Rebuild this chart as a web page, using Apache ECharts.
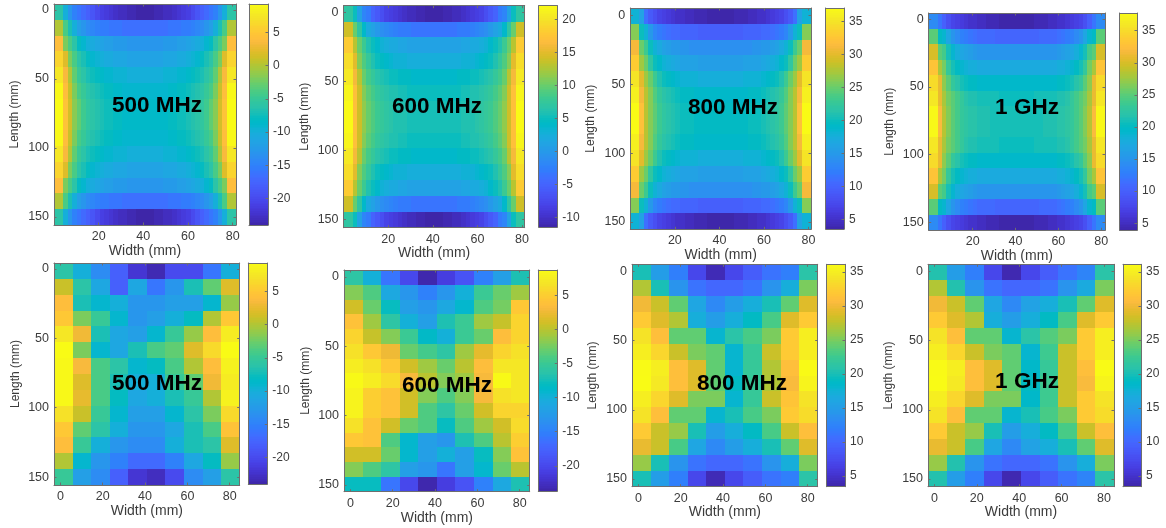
<!DOCTYPE html>
<html><head><meta charset="utf-8">
<style>html,body{margin:0;padding:0;background:#fff}#c{width:1166px;height:528px;filter:blur(0.45px)}</style>
<script src="https://cdn.jsdelivr.net/npm/echarts@6/dist/echarts.min.js"></script></head>
<body><div id="c"></div>
<script>
// ---------- tick labels ----------
const lengthTicks=[0,50,100,150];
const widthTicksTop=[20,40,60,80];
const widthTicksBottom=[0,20,40,60,80];
const barTicks500=[-20,-15,-10,-5,0,5];
const barTicks600=[-10,-5,0,5,10,15,20];
const barTicksHigh=[5,10,15,20,25,30,35];
const barTicks600b=[-20,-15,-10,-5,0,5];

// ---------- top row, 500 MHz: rows from the top edge to mid length ----------
const a0=[-6,-6,-10,-13,-15,-16,-17,-18,-19,-20,-21,-21.5,-22,-22.5,-23,-23,-23.5,-23.5,-24,-24,-24,-24,-23.5,-23.5,-23,-23,-22.5,-22,-21.5,-21,-20,-19,-18,-17,-16,-15,-13,-10,-6,-6];
const a1=[0,0,-4,-7,-10,-12,-13,-14,-14.5,-15,-15.5,-15.5,-16,-16,-16,-16.5,-16.5,-16.5,-16.5,-16.5,-16.5,-16.5,-16.5,-16.5,-16.5,-16,-16,-16,-15.5,-15.5,-15,-14.5,-14,-13,-12,-10,-7,-4,0,0];
const a2=[4,4,-2,-4,-6,-8,-9,-10,-10.5,-11,-11.5,-12,-12,-12.5,-12.5,-12.5,-13,-13,-13,-13,-13,-13,-13,-13,-12.5,-12.5,-12.5,-12,-12,-11.5,-11,-10.5,-10,-9,-8,-6,-4,-2,4,4];
const a3=[6,6,2,-2,-4,-6,-7,-8,-9,-9.5,-10,-10.5,-10.5,-11,-11,-11,-11.5,-11.5,-11.5,-11.5,-11.5,-11.5,-11.5,-11.5,-11,-11,-11,-10.5,-10.5,-10,-9.5,-9,-8,-7,-6,-4,-2,2,6,6];
const a4=[7.5,7.5,3.5,0,-3,-5,-6,-7,-7.5,-8,-8.5,-9,-9,-9.5,-9.5,-9.5,-10,-10,-10,-10,-10,-10,-10,-10,-9.5,-9.5,-9.5,-9,-9,-8.5,-8,-7.5,-7,-6,-5,-3,0,3.5,7.5,7.5];
const a5=[9,9,4,1,-2,-4,-5,-6,-6.5,-7,-7.5,-8,-8,-8.5,-8.5,-9,-9,-9,-9,-9,-9,-9,-9,-9,-9,-8.5,-8.5,-8,-8,-7.5,-7,-6.5,-6,-5,-4,-2,1,4,9,9];
const a6=[9.3,9.3,4.5,1.5,-1.5,-3,-4.5,-5.5,-6,-6.5,-7,-7.5,-7.5,-8,-8,-8.5,-8.5,-8.5,-8.5,-8.5,-8.5,-8.5,-8.5,-8.5,-8.5,-8,-8,-7.5,-7.5,-7,-6.5,-6,-5.5,-4.5,-3,-1.5,1.5,4.5,9.3,9.3];
const top500=[a0,a1,a2,a3,a4,a5,a6,a6,a5,a4,a3,a2,a1,a0];

// ---------- top row, 600 MHz ----------
const b0=[7,7,5,1,-2,-3,-5,-6,-7,-8,-8.5,-9,-9.5,-10,-10.5,-10.5,-11,-11,-11.4,-11.4,-11.4,-11.4,-11,-11,-10.5,-10.5,-10,-9.5,-9,-8.5,-8,-7,-6,-5,-3,-2,1,5,7,7];
const b1=[14,14,10,7,4,2,1,0,-1,-1.5,-2,-2.5,-3,-3,-3,-3.5,-3.5,-3.5,-3.5,-3.5,-3.5,-3.5,-3.5,-3.5,-3.5,-3,-3,-3,-2.5,-2,-1.5,-1,0,1,2,4,7,10,14,14];
const b2=[18,18,13,10,8,6,5,4,3,2.5,2,2,1.5,1.5,1,1,1,1,1,1,1,1,1,1,1,1,1.5,1.5,2,2,2.5,3,4,5,6,8,10,13,18,18];
const b3=[19.5,19.5,15,11,9,7.5,6,5,4.5,4,3.5,3,3,3,2.5,2.5,2.5,2.5,2.5,2.5,2.5,2.5,2.5,2.5,2.5,2.5,3,3,3,3.5,4,4.5,5,6,7.5,9,11,15,19.5,19.5];
const b4=[20.5,20.5,16,13,10,8.5,7.5,6.5,6,5.5,5,5,4.5,4.5,4.5,4,4,4,4,4,4,4,4,4,4,4.5,4.5,4.5,5,5,5.5,6,6.5,7.5,8.5,10,13,16,20.5,20.5];
const b5=[21.5,21.5,17,14,11,9.5,8.5,7.5,7,6.5,6,6,5.5,5.5,5,5,5,5,5,5,5,5,5,5,5,5,5.5,5.5,6,6,6.5,7,7.5,8.5,9.5,11,14,17,21.5,21.5];
const b6=[22,22,17,14,11.5,10,9,8,7.5,7,6.5,6,6,6,5.5,5.5,5.5,5.5,5.5,5.5,5.5,5.5,5.5,5.5,5.5,5.5,6,6,6,6.5,7,7.5,8,9,10,11.5,14,17,22,22];
const top600=[b0,b1,b2,b3,b4,b5,b6,b6,b5,b4,b3,b2,b1,b0];

// ---------- top row, 800 MHz ----------
const c0=[18,18,16,11,9,8,7,6.5,6,5.5,5,5,4.5,4.5,4,4,4,3.6,3.6,3.6,3.6,3.6,3.6,4,4,4,4.5,4.5,5,5,5.5,6,6.5,7,8,9,11,16,18,18];
const c1=[26,26,20,18,15,13,12,11.5,11,10.5,10.5,10,10,10,10,9.5,9.5,9.5,9.5,9.5,9.5,9.5,9.5,9.5,9.5,10,10,10,10,10.5,10.5,11,11.5,12,13,15,18,20,26,26];
const c2=[31,31,25,23,20,18,17,16,15.5,15,15,14.5,14.5,14,14,14,14,14,14,14,14,14,14,14,14,14,14,14.5,14.5,15,15,15.5,16,17,18,20,23,25,31,31];
const c3=[33,33,27,25,22,20,19,18,17.5,17,16.5,16,16,16,16,15.5,15.5,15.5,15.5,15.5,15.5,15.5,15.5,15.5,15.5,16,16,16,16,16.5,17,17.5,18,19,20,22,25,27,33,33];
const c4=[35,35,30,27,25,23,21,20,19.5,19,18.5,18,18,18,18,17.5,17.5,17.5,17.5,17.5,17.5,17.5,17.5,17.5,17.5,18,18,18,18,18.5,19,19.5,20,21,23,25,27,30,35,35];
const c5=[36,36,31,28,26,24,22.5,21.5,21,20.5,20,19.5,19.5,19.5,19,19,19,19,19,19,19,19,19,19,19,19,19.5,19.5,19.5,20,20.5,21,21.5,22.5,24,26,28,31,36,36];
const c6=[37,37,32,28,26,24.5,23,22,21.5,21,20.5,20,20,20,19.5,19.5,19.5,19.5,19.5,19.5,19.5,19.5,19.5,19.5,19.5,19.5,20,20,20,20.5,21,21.5,22,23,24.5,26,28,32,37,37];
const top800=[c0,c1,c2,c3,c4,c5,c6,c6,c5,c4,c3,c2,c1,c0];

// ---------- top row, 1 GHz ----------
const d0=[14,14,12,10,8.5,7.5,7,6.5,6,5.5,5.5,5,5,4.5,4.5,4.5,4,4,4,4,4,4,4,4,4.5,4.5,4.5,5,5,5.5,5.5,6,6.5,7,7.5,8.5,10,12,14,14];
const d1=[25,25,20,19,17,15,14,13,12.5,12,11.5,11,11,11,11,10.5,10.5,10.5,10.5,10.5,10.5,10.5,10.5,10.5,10.5,11,11,11,11,11.5,12,12.5,13,14,15,17,19,20,25,25];
const d2=[30,30,25,24,21,19,18,17,16.5,16,15.5,15,15,15,15,15,15,15,15,15,15,15,15,15,15,15,15,15,15,15.5,16,16.5,17,18,19,21,24,25,30,30];
const d3=[33,33,28,26,23,21,20,19,18.5,18,18,17.5,17.5,17.5,17.5,17.5,17.5,17.5,17.5,17.5,17.5,17.5,17.5,17.5,17.5,17.5,17.5,17.5,17.5,18,18,18.5,19,20,21,23,26,28,33,33];
const d4=[35,35,31,27,25,23,22,21,20.5,20,20,19.5,19.5,19.5,19.5,19.5,19.5,19.5,19.5,19.5,19.5,19.5,19.5,19.5,19.5,19.5,19.5,19.5,19.5,20,20,20.5,21,22,23,25,27,31,35,35];
const d5=[36,36,31,28,26,25,24,23,22,21.5,21.5,21,21,21,21,21,20.5,20.5,20.5,20.5,20.5,20.5,20.5,20.5,21,21,21,21,21,21.5,21.5,22,23,24,25,26,28,31,36,36];
const d6=[37.5,37.5,32,28.5,26.5,25,24,23,22.5,22,22,21.5,21.5,21.5,21,21,21,21,21,21,21,21,21,21,21,21,21.5,21.5,21.5,22,22,22.5,23,24,25,26.5,28.5,32,37.5,37.5];
const top1G=[d0,d1,d2,d3,d4,d5,d6,d6,d5,d4,d3,d2,d1,d0];

// ---------- bottom row ----------
const bottom500=[
[-6,-10,-14,-18,-22,-23.5,-20,-20,-16,-10],
[1,-6,-11,-18,-11,-16,-13,-7,-3,2],
[4,-7,-9,-10,-13,-13,-12,-12,-9,-1],
[5,-2,-5,-9,-13,-12,-10,-8,0,5],
[7.5,3,-7,-11,-12,-9,-5,-1,4,8],
[9.3,-2,-9,-11,-7,-4,-3,2,6.5,9.3],
[9,3.5,-4,-6,-9,-8,-4,0,4,8.5],
[9,2,-4,-7,-10,-10,-5,-3,3,8],
[9,2.5,-4,-8,-11,-10,-7,-5,0,8.5],
[7,1,-5,-9,-12,-12,-9,-6,-2,6.5],
[5,-3,-6,-10,-13,-13,-11,-7,-4,4.5],
[4,-5,-10,-13,-14,-14,-10,-7,-6,2],
[0,-9,-13,-15,-17,-17,-15,-11,-8,-1],
[-5,-12,-14,-18,-22,-23,-20,-14,-12,-6]];
const bottom600=[
[-6,-10,-16,-20,-23.5,-21,-19,-15,-12,-7],
[-2,-4,-11,-13,-15,-13,-10,-5,-3,-1],
[1,-3,-8,-12,-13,-11,-9,-4,-2.5,4.5],
[4,-1,-6,-10,-12,-7,-5,-1,0.5,5.5],
[5.5,0.5,-2,-5,-8.5,-10,-5,-3,3.5,5.5],
[6.5,4.5,2.5,-3,-4.5,-6,-1,2,5.5,6.5],
[7.5,6.5,4.5,1,-1,-3,0,3.5,7,7],
[8.5,7.5,6,3,0,-2,-1,3,8.5,7],
[8,5,4,1,-2,-4,-2,3,6.5,7],
[8,5,4,1,-4,-6,-3,1,5.5,5.5],
[6.5,4,1,-3,-4,-8,-4,-1,1,6],
[4.5,4,-4,-9,-12,-13,-7,-4,0,5],
[1,1,-3,-9,-12,-10,-12,-8,-2,4],
[-2,-4,-6,-12,-13,-16,-12,-9,-3,0],
[-8,-8,-16,-20,-23.5,-21,-19,-15,-11,-7]];
const bottom800=[
[20,15,12,7,4,7,9,11,12,21],
[27,20,14,11,10,10,11,14,17,25],
[30,28,24,16,13,15,17,20,24,29],
[32,29,27,17,15,17,19,23,29,32],
[34,31,24,24,18,21,23,25,32,35],
[35,33,28,25,24,18,22,28,32,35],
[36,35,31,29,24,18,22,27,31,36],
[36.2,34.5,31,29,24,19,22,27,30.5,35.5],
[35,33,29,25,25,18,22,28,31.5,34],
[34,31,24,24,18,20,23,25,32,33.5],
[32,28,26,20,15,17,19,23,28,31],
[29.5,28,23,16,13,15,17,20,24,29],
[26,20,14,11,10,10,11,14,17,25],
[20,15,12,7,4,7,9,11,12,21]];
const bottom1G=[
[20.5,15,12,7,3.8,7,9,11,12.5,21],
[27,20.5,14,11,10,10,11,14,16.5,25],
[30,28,24,16,13,15.5,17,20,24,29],
[32,29,27,17,15,17,19,23,29,32],
[34,31,24,24,18,21,23.5,25,32,35],
[35,33,28,25,24,18,22.5,28,32,35],
[36,35,31,29,24,18.5,22,28,31,36],
[36.2,34.5,31,29,24,19,22.5,28,30.5,35.5],
[35,33,29,25,25,18.5,22.5,28,32,34],
[34,31,24,24,18,20,23,25,32,33.5],
[32,28,26,20,15,17,19,23,28,31],
[29.5,28,23,16,13,15.5,17,20,24,29],
[26,20.5,14,11,10,10,11,14,17,25],
[20.5,15,12,7,3.8,7,9,11,12.5,21]];

// ---------- colour scale (parula) ----------
const parula=[[.2422,.1504,.6603],[.2504,.165,.7076],[.2578,.1818,.7511],[.2647,.1978,.7952],[.2706,.2147,.8364],[.2751,.2342,.871],[.2783,.2559,.8991],[.2803,.2782,.9221],[.2813,.3006,.9414],[.281,.3228,.9579],[.2795,.3447,.9717],[.276,.3667,.9829],[.2699,.3892,.9906],[.2602,.4123,.9952],[.244,.4358,.9988],[.2206,.4603,.9973],[.1963,.4847,.9892],[.1834,.5074,.9798],[.1786,.5289,.9682],[.1764,.5499,.952],[.1687,.5703,.9359],[.154,.5902,.9218],[.146,.6091,.9079],[.138,.6276,.8973],[.1248,.6459,.8883],[.1113,.6635,.8763],[.0952,.6798,.8598],[.0689,.6948,.8394],[.0297,.7082,.8163],[.0036,.7203,.7917],[.0067,.7312,.766],[.0433,.7411,.7394],[.0964,.75,.712],[.1408,.7584,.6842],[.1717,.767,.6554],[.1938,.7758,.6251],[.2161,.7843,.5923],[.247,.7918,.5567],[.2906,.7973,.5188],[.3406,.8008,.4789],[.3909,.8029,.4354],[.4456,.8024,.3909],[.5044,.7993,.348],[.5616,.7942,.3045],[.6174,.7876,.2612],[.672,.7793,.2227],[.7242,.7698,.191],[.7738,.7598,.1646],[.8203,.7498,.1535],[.8634,.7406,.1596],[.9035,.733,.1774],[.9393,.7288,.21],[.9728,.7298,.2394],[.9956,.7434,.2371],[.997,.7659,.2199],[.9952,.7893,.2028],[.9892,.8136,.1885],[.9786,.8386,.1766],[.9676,.8639,.1643],[.961,.889,.1537],[.9597,.9135,.1423],[.9628,.9373,.1265],[.9691,.9606,.1064],[.9769,.9839,.0805]]
 .map(c=>`rgb(${c.map(v=>Math.round(v*255)).join(',')})`);

// ---------- layout of the eight panels ----------
// plot: pixel box, ax: x/y axis limits in mm, bar: pixel box + limits, text: frequency caption
const panels=[
 {m:top500,label:'500 MHz',lx:157,ly:106,box:[54,4,236,225],xl:[0,81.5],yl:[-4.3,155.8],cb:[249,4,268,225],cl:[-24,9.3],ct:barTicks500,wt:widthTicksTop,gx:24,gy:39},
 {m:top600,label:'600 MHz',lx:437,ly:107,box:[343.5,5.7,524.7,227.7],xl:[-0.1,81.2],yl:[-5.07,155.8],cb:[538.7,5.7,557.3,227],cl:[-11.4,22.05],ct:barTicks600,wt:widthTicksTop,gx:24,gy:38.5},
 {m:top800,label:'800 MHz',lx:733,ly:108,box:[630.3,8,811,229.3],xl:[0,81.1],yl:[-5.3,155.3],cb:[825.7,8,844,229],cl:[3.53,37],ct:barTicksHigh,wt:widthTicksTop,gx:24.7,gy:39.6},
 {m:top1G,label:'1 GHz',lx:1027,ly:108,box:[928.7,13,1105,230.3],xl:[-0.56,81.8],yl:[-4.7,155.9],cb:[1119.7,13,1137,230.3],cl:[3.9,37.76],ct:barTicksHigh,wt:widthTicksTop,gx:24,gy:38.7},
 {m:bottom500,label:'500 MHz',lx:157,ly:384,box:[54,263,239.7,485],xl:[-3,84.7],yl:[-4.3,155.7],cb:[248.3,263,267.3,484],cl:[-24,9.3],ct:barTicks500,wt:widthTicksBottom,gx:24.7,gy:38.7},
 {m:bottom600,label:'600 MHz',lx:447,ly:386,box:[344,270,529.7,491.7],xl:[-3,84.7],yl:[-5,155],cb:[538.3,270,557.3,491],cl:[-23.7,8.7],ct:barTicks600b,wt:widthTicksBottom,gx:25,gy:38},
 {m:bottom800,label:'800 MHz',lx:742,ly:384,box:[632,264.3,817.7,486.7],xl:[-3,84.7],yl:[-5.3,155.7],cb:[826.7,264.3,845,486.7],cl:[3.4,36.1],ct:barTicksHigh,wt:widthTicksBottom,gx:24.3,gy:39.3},
 {m:bottom1G,label:'1 GHz',lx:1027,ly:382,box:[928,264.3,1114,486.7],xl:[-3,84.7],yl:[-5.3,155.7],cb:[1123,264.3,1141,486.7],cl:[3.4,36.1],ct:barTicksHigh,wt:widthTicksBottom,gx:24.3,gy:39.3}
];

const FONT='"Liberation Sans"',LINE='#6e6e6e',TXT='#3c3c3c';
const rect=(p,r)=>({left:r[0],top:r[1],width:r[2]-r[0],height:r[3]-r[1],show:false,containLabel:false});
function ax(gridIndex,pos,lim,ticks,opt){
  opt=opt||{};
  return Object.assign({type:'value',gridIndex,position:pos,min:lim[0],max:lim[1],inverse:!!opt.inverse,z:10,silent:true,
    splitLine:{show:false},
    axisLine:{show:true,onZero:false,lineStyle:{color:LINE,width:1}},
    axisTick:{show:ticks.length>0,inside:true,length:2.5,customValues:ticks,lineStyle:{color:LINE,width:1}},
    axisLabel:{show:!!opt.labels,customValues:ticks,margin:opt.margin||5,fontFamily:FONT,fontSize:opt.size||12.5,color:TXT}
  },opt.name?{name:opt.name,nameLocation:'middle',nameGap:opt.gap,nameRotate:opt.rot||0,
    nameTextStyle:{fontFamily:FONT,fontSize:opt.nsize,color:TXT}}:{});
}
const renderCell=(params,api)=>{
  const a=api.coord([api.value(0),api.value(2)]),b=api.coord([api.value(1),api.value(3)]);
  const x=Math.round(Math.min(a[0],b[0])),X=Math.round(Math.max(a[0],b[0]));
  const y=Math.round(Math.min(a[1],b[1])),Y=Math.round(Math.max(a[1],b[1]));
  return {type:'rect',shape:{x,y,width:X-x,height:Y-y},style:{fill:api.visual('color')}};
};

const grid=[],xAxis=[],yAxis=[],series=[],visualMap=[],graphic=[];
panels.forEach((p,i)=>{
  const g=grid.length,xa=xAxis.length,ya=yAxis.length;
  grid.push(rect(p,p.box),rect(p,p.cb));
  xAxis.push(
    ax(g,'bottom',p.xl,p.wt,{labels:true,name:'Width (mm)',gap:p.gx-6,nsize:14}),
    ax(g,'top',p.xl,p.wt),
    ax(g+1,'bottom',[0,1],[]),
    ax(g+1,'top',[0,1],[]));
  yAxis.push(
    ax(g,'left',p.yl,lengthTicks,{inverse:true,labels:true,name:'Length (mm)',gap:p.gy-6,rot:90,nsize:12}),
    ax(g,'right',p.yl,lengthTicks,{inverse:true}),
    ax(g+1,'right',p.cl,p.ct,{labels:true,size:12}),
    ax(g+1,'left',p.cl,[]));
  const rows=p.m.length,cols=p.m[0].length,dx=(p.xl[1]-p.xl[0])/cols,dy=(p.yl[1]-p.yl[0])/rows;
  const cells=[];
  p.m.forEach((row,r)=>row.forEach((v,c)=>cells.push([p.xl[0]+c*dx,p.xl[0]+(c+1)*dx,p.yl[0]+r*dy,p.yl[0]+(r+1)*dy,v])));
  const bar=[],n=128,st=(p.cl[1]-p.cl[0])/n;
  for(let k=0;k<n;k++){const y0=p.cl[0]+k*st;bar.push([0,1,y0,y0+st,y0+st/2]);}
  const common={type:'custom',renderItem:renderCell,silent:true,clip:true,animation:false,z:2};
  const s=series.length;
  series.push(
    Object.assign({},common,{name:p.label+' '+(i<4?'simulated':'measured'),xAxisIndex:xa,yAxisIndex:ya,data:cells,encode:{x:[0,1],y:[2,3]}}),
    Object.assign({},common,{name:p.label+' colour bar',xAxisIndex:xa+2,yAxisIndex:ya+2,data:bar,encode:{x:[0,1],y:[2,3]}}));
  visualMap.push({type:'continuous',show:false,seriesIndex:[s,s+1],dimension:4,min:p.cl[0],max:p.cl[1],inRange:{color:parula}});
  graphic.push({type:'text',x:p.lx,y:p.ly,z:100,silent:true,style:{text:p.label,font:'bold 22.5px '+FONT,fill:'#000',align:'center',verticalAlign:'middle'}});
});

const chart=echarts.init(document.getElementById('c'),null,{renderer:'canvas'});
chart.setOption({animation:false,backgroundColor:'#fff',tooltip:{show:false},grid,xAxis,yAxis,visualMap,series,graphic});
</script></body></html>
